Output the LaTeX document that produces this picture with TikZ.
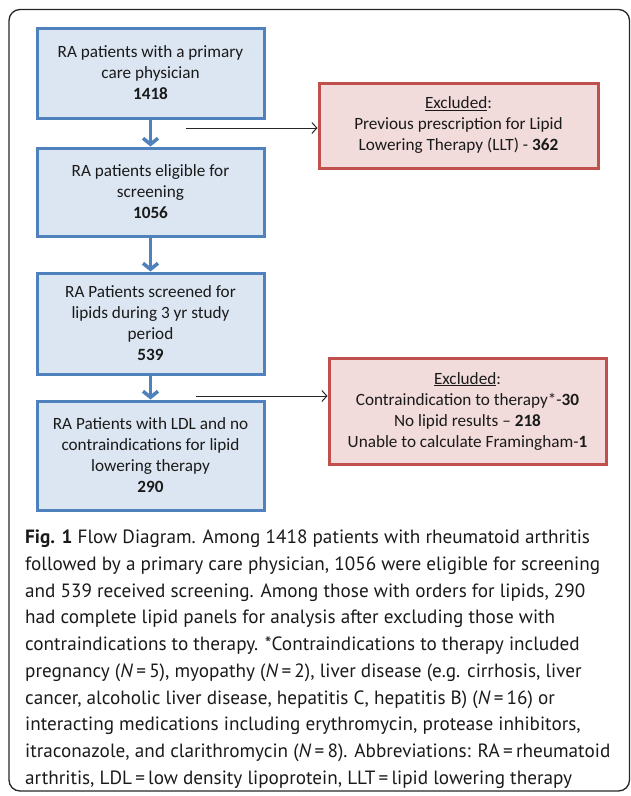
\documentclass[tikz,border=0pt]{standalone}
\usepackage{fontspec}
\setmainfont{Carlito}
\newfontfamily\capfont{PT Sans}
\usetikzlibrary{arrows.meta}
\definecolor{bluefill}{HTML}{DCE6F2}
\definecolor{blueline}{HTML}{4F81BD}
\definecolor{redfill}{HTML}{F2DCDB}
\definecolor{redline}{HTML}{C0504D}
\definecolor{txt}{HTML}{1A1A1A}
\begin{document}
\begin{tikzpicture}[x=1pt,y=-1pt,
  boxtext/.style={align=center, font=\fontsize{17.2}{21}\selectfont, text=txt, inner sep=0pt, line width=3pt},
  bluebox/.style={boxtext, draw=blueline, fill=bluefill, minimum width=227pt},
  redbox/.style={boxtext, draw=redline, fill=redfill},
  bluearrow/.style={draw=blueline, line width=3.5pt, -{Straight Barb[length=6pt,width=15pt]}},
  blackarrow/.style={draw=black!85, line width=1pt, -{Straight Barb[length=5pt,width=11pt]}},
  frame/.style={draw=black!85, line width=1.3pt, rounded corners=11pt}]
\useasboundingbox (0,0) rectangle (630,796);
\draw[frame] (9,9.5) rectangle (629.5,791);

\node[bluebox, minimum height=90pt] (b1) at (150.5,73) {RA patients with a primary\\care physician\\\textbf{1418}};
\node[bluebox, minimum height=88pt] (b2) at (150.5,192) {RA patients eligible for\\screening\\\textbf{1056}};
\node[bluebox, minimum height=101pt] (b3) at (150.5,323.5) {RA Patients screened for\\lipids during 3 yr study\\period\\\textbf{539}};
\node[bluebox, minimum height=109pt] (b4) at (150.5,455.5) {RA Patients with LDL and no\\contraindications for lipid\\lowering therapy\\\textbf{290}};

\node[redbox, minimum width=279pt, minimum height=85pt] (r1) at (458.5,125.5) {\underline{Excluded}:\\Previous prescription for Lipid\\Lowering Therapy (LLT) - \textbf{362}};
\node[redbox, minimum width=277pt, minimum height=106pt] (r2) at (467.5,411) {\underline{Excluded}:\\Contraindication to therapy*-\textbf{30}\\No lipid results -- \textbf{218}\\Unable to calculate Framingham-\textbf{1}};

\draw[bluearrow] (b1.south) -- (b2.north);
\draw[bluearrow] (b2.south) -- (b3.north);
\draw[bluearrow] (b3.south) -- (b4.north);

\coordinate (s1) at (186,128);
\coordinate (s2) at (196,396);
\draw[blackarrow] (s1) -- (s1 -| r1.west);
\draw[blackarrow] (s2) -- (s2 -| r2.west);

\node[anchor=north west, align=left, inner sep=0pt, text=txt,
      font=\capfont\fontsize{19.2}{26.7}\selectfont] (cap) at (25,530) {%
\textbf{Fig. 1} Flow Diagram. Among 1418 patients with rheumatoid arthritis\\
followed by a primary care physician, 1056 were eligible for screening\\
and 539 received screening. Among those with orders for lipids, 290\\
had complete lipid panels for analysis after excluding those with\\
contraindications to therapy. *Contraindications to therapy included\\
pregnancy (\textit{N}\,=\,5), myopathy (\textit{N}\,=\,2), liver disease (e.g. cirrhosis, liver\\
cancer, alcoholic liver disease, hepatitis C, hepatitis B) (\textit{N}\,=\,16) or\\
interacting medications including erythromycin, protease inhibitors,\\
itraconazole, and clarithromycin (\textit{N}\,=\,8). Abbreviations: RA\,=\,rheumatoid\\
arthritis, LDL\,=\,low density lipoprotein, LLT\,=\,lipid lowering therapy};
\end{tikzpicture}
\end{document}
